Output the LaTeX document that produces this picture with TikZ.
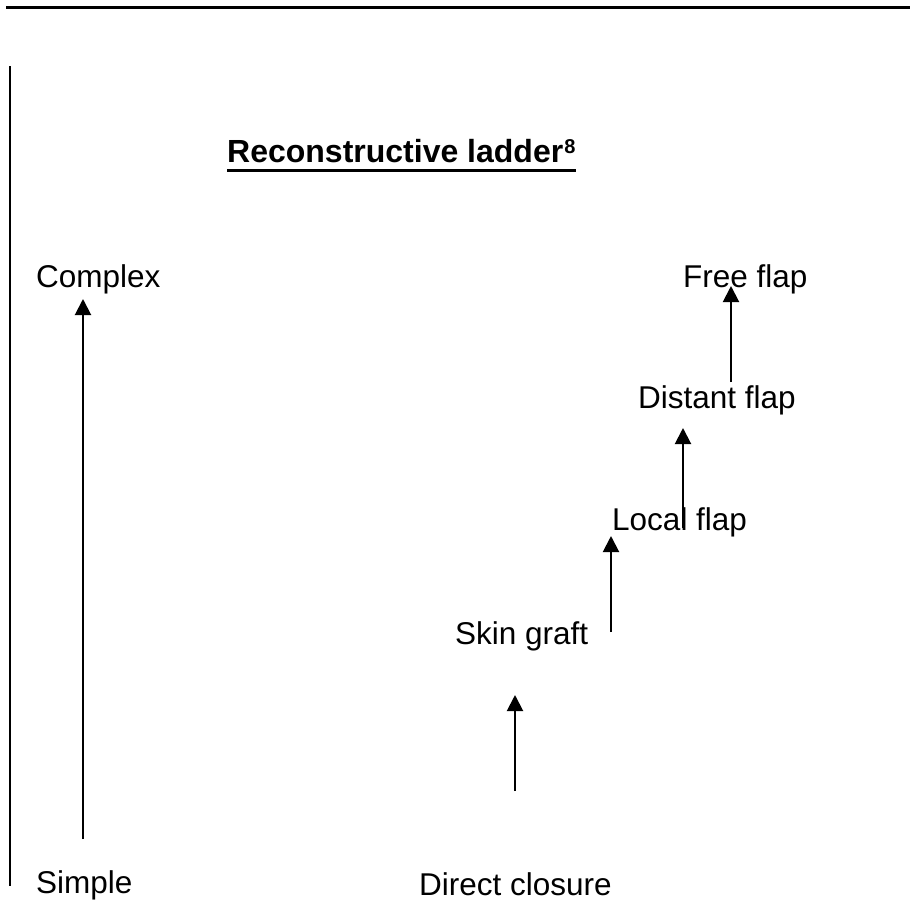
\documentclass[tikz,border=0pt]{standalone}
\usepackage{fontspec}
\setmainfont{Liberation Sans}
\usetikzlibrary{arrows.meta}
\begin{document}
\begin{tikzpicture}[x=1pt,y=-1pt,
  lbl/.style={anchor=base west,inner sep=0pt,font=\fontsize{31.5}{36}\selectfont},
  ttl/.style={anchor=base west,inner sep=0pt,font=\fontsize{32}{36}\selectfont\bfseries},
  arr/.style={line width=2pt,-{Triangle[width=16pt,length=16pt]}},
  rule/.style={line width=3pt},
  vrule/.style={line width=2pt}]
\useasboundingbox (0,0) rectangle (910,906);
% frame lines
\coordinate (tl) at (6,7);
\coordinate (tr) at (910,7);
\draw[rule] (tl) -- (tr);
\coordinate (lt) at (10,66);
\coordinate (lb) at (10,886);
\draw[vrule] (lt) -- (lb);
% title
\node[ttl] (title) at (227,162) {Reconstructive ladder\hspace{1pt}{\fontsize{20}{22}\selectfont\raisebox{9pt}{8}}};
\draw[line width=3pt] ([yshift=-8pt]title.base west) -- ([yshift=-8pt]title.base east);
% labels
\node[lbl] (complex) at (36,287) {Complex};
\node[lbl] (simple) at (36,893) {Simple};
\node[lbl] (direct) at (419,895) {Direct closure};
\node[lbl] (skin) at (455,644) {Skin graft};
\node[lbl] (local) at (612,530) {Local flap};
\node[lbl] (distant) at (638,408) {Distant flap};
\node[lbl] (free) at (683,287) {Free flap};
% arrows
\coordinate (s0) at (83,839);  \coordinate (e0) at (83,299);
\coordinate (s1) at (515,791); \coordinate (e1) at (515,695);
\coordinate (s2) at (611,632); \coordinate (e2) at (611,536);
\coordinate (s3) at (683,528); \coordinate (e3) at (683,428);
\coordinate (s4) at (731,382); \coordinate (e4) at (731,286);
\draw[arr] (s0) -- (e0);
\draw[arr] (s1) -- (e1);
\draw[arr] (s2) -- (e2);
\draw[arr] (s3) -- (e3);
\draw[arr] (s4) -- (e4);
\end{tikzpicture}
\end{document}
